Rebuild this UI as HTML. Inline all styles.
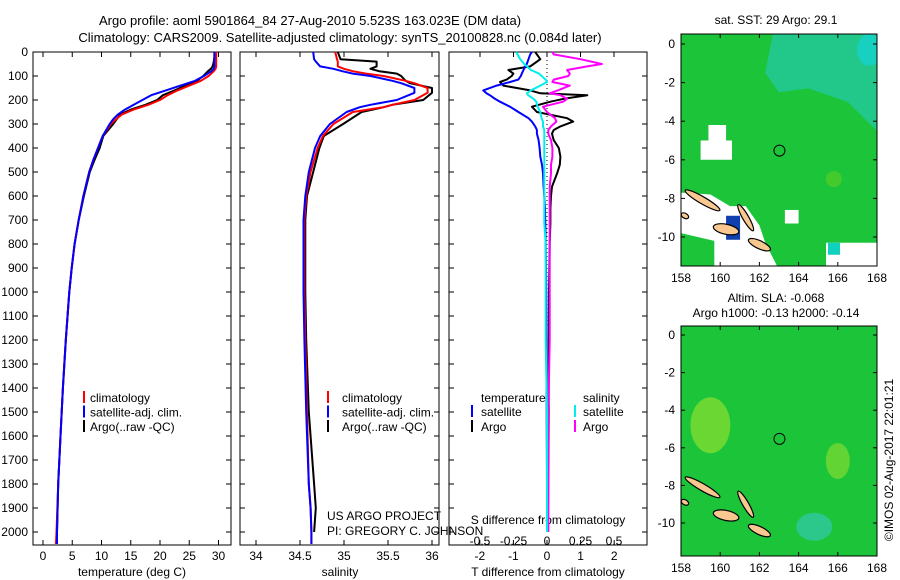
<!DOCTYPE html>
<html><head><meta charset="utf-8"><style>
body{margin:0;background:#fff;}
svg{display:block;font-family:"Liberation Sans",sans-serif;}
text{font-size:12px;fill:#000;}
</style></head><body>
<svg id="chart" width="900" height="580" viewBox="0 0 900 580" xmlns="http://www.w3.org/2000/svg">
<text x="310" y="25" text-anchor="middle" style="font-size:13px">Argo profile: aoml 5901864_84 27-Aug-2010 5.523S 163.023E (DM data)</text>
<text x="340" y="42" text-anchor="middle" style="font-size:13px">Climatology: CARS2009. Satellite-adjusted climatology: synTS_20100828.nc (0.084d later)</text>
<g id="panels"></g>
<g id="maps"></g>
<text transform="translate(893,460) rotate(-90)" text-anchor="middle">©IMOS 02-Aug-2017 22:01:21</text>
</svg>
<script>
// ---- data ----
const depthT = [0,20,40,60,70,80,100,120,140,160,180,200,220,240,260,280,300,350,400,450,500,600,700,800,900,1000,1200,1400,1600,1800,2000,2050];
const tClim = [29.6,29.6,29.6,29.6,29.5,29.2,28.3,27,25,23,21.3,20,18,15.5,13.5,12.5,11.6,10.2,9.4,8.6,7.9,6.9,6.1,5.4,4.9,4.5,3.9,3.4,3.0,2.6,2.3,2.2];
const tSat = [29.3,29.3,29.3,29.3,29.2,28.8,27.5,26,23.5,21,18.5,17,15.5,14,12.8,12,11.4,10.2,9.4,8.6,7.9,6.9,6.1,5.4,4.9,4.5,3.9,3.4,3.0,2.6,2.4,2.4];
const tArgo = [29.3,29.3,29.2,29.0,28.7,28.2,27.4,26.3,24.3,22.5,20.5,19.5,17.5,15,13.2,12.6,12,10.3,9.7,8.8,8,7.0,6.1,5.4,4.9,4.5,3.9,3.4,3.0,2.6,2.4];
const depthS = [0,30,40,60,70,80,90,100,120,130,150,170,200,220,230,250,300,350,400,500,600,700,800,1000,1200,1500,1800,1900,2000,2050];
const sClim = [34.9,34.92,34.93,34.93,35.0,35.1,35.25,35.45,35.7,35.8,35.95,35.95,35.8,35.55,35.45,35.1,34.88,34.76,34.7,34.62,34.57,34.55,34.55,34.55,34.56,34.58,34.6,34.62,34.63,34.63];
const sSat = [34.65,34.66,34.68,34.73,34.88,34.98,35.1,35.3,35.55,35.65,35.8,35.8,35.6,35.3,35.18,35.03,34.84,34.73,34.67,34.6,34.56,34.54,34.54,34.54,34.55,34.57,34.6,34.62,34.63,34.63];
const sArgo = [34.93,34.96,35.37,35.37,35.3,35.4,35.6,35.65,35.7,35.75,36.0,36.0,35.9,35.55,35.45,35.2,34.99,34.77,34.72,34.65,34.58,34.56,34.56,34.56,34.57,34.6,34.66,34.68,34.66];
const depthD = [0,10,30,50,60,75,90,100,115,125,140,160,172,180,195,207,228,250,276,290,310,325,340,367,400,436,470,506,561,600,650,714,800,1000,1200,1500,1800,2000];
const tDiffSat = [-0.45,-0.5,-0.55,-0.6,-0.65,-0.7,-0.75,-0.78,-0.85,-1.1,-1.5,-1.9,-1.8,-1.7,-1.55,-1.4,-1.1,-0.85,-0.55,-0.45,-0.35,-0.3,-0.3,-0.25,-0.22,-0.2,-0.15,-0.12,-0.1,-0.08,-0.06,-0.05,-0.04,-0.02,-0.02,-0.01,0,0];
const tDiffArgo = [-0.35,-0.3,-0.2,-0.4,-0.5,-1.15,-1.0,-1.05,-1.2,-1.4,-1.3,-0.5,-0.2,1.2,0.5,0.1,-0.45,-0.3,0.6,0.78,0.4,0.2,0.15,0.2,0.35,0.4,0.38,0.3,0.15,0.12,0.1,0.1,0.08,0.06,0.05,0.05,0.04,0.03];
const sDiffSat = [-0.23,-0.22,-0.2,-0.17,-0.15,-0.12,-0.06,-0.04,-0.01,0,-0.05,-0.12,-0.15,-0.14,-0.1,-0.08,-0.07,-0.05,-0.04,-0.03,-0.03,-0.02,-0.02,-0.02,-0.02,-0.02,-0.02,-0.02,-0.02,-0.02,-0.02,-0.02,-0.01,-0.01,-0.01,0,0,0];
const sDiffArgo = [0.04,0.05,0.25,0.41,0.3,0.15,0.17,0.16,0.05,0.04,0.17,0.08,0.02,0.1,0.15,0.12,-0.03,0,0.06,0.07,0.03,0.01,0.01,0.03,0.04,0.04,0.03,0.03,0.02,0.02,0.02,0.02,0.02,0.02,0.02,0.01,0.01,0.01];
const depthTicks = [0,100,200,300,400,500,600,700,800,900,1000,1100,1200,1300,1400,1500,1600,1700,1800,1900,2000];
const tempTicks = [0,5,10,15,20,25,30];
const salTicks = [34,34.5,35,35.5,36];
const tDiffTicks = [-2,-1,0,1,2];
const sDiffTicks = [-0.5,-0.25,0,0.25,0.5];
const sDiffTickLabels = ["-0.5","-0.25","0","0.25","0.5"];

const NS="http://www.w3.org/2000/svg";
const panels=document.getElementById('panels');
function mk(tag,attrs,parent){const e=document.createElementNS(NS,tag);for(const k in attrs)e.setAttribute(k,attrs[k]);(parent||panels).appendChild(e);return e;}
const TOP=52, BOT=545;
function yD(d){return TOP+d*0.24;}
const xT=v=>43+v*5.85;
const xS=v=>256+(v-34)*88;
const xTD=v=>547+v*33.6;
const xSD=v=>547+v*134;

function frame(x0,x1,name){
  const r=mk('rect',{x:x0,y:TOP,width:x1-x0,height:BOT-TOP,fill:'none',stroke:'#000','stroke-width':1});
  
  
  depthTicks.forEach(d=>{
    mk('line',{x1:x0,x2:x0+5,y1:yD(d),y2:yD(d),stroke:'#000'});
    mk('line',{x1:x1-5,x2:x1,y1:yD(d),y2:yD(d),stroke:'#000'});
  });
}
function xticks(vals,fx,labels,ly,name){
  vals.forEach((v,i)=>{
    const x=fx(v);
    mk('line',{x1:x,x2:x,y1:BOT,y2:BOT-5,stroke:'#000'});
    mk('line',{x1:x,x2:x,y1:TOP,y2:TOP+5,stroke:'#000'});
    const t=mk('text',{x:x,y:ly,'text-anchor':'middle'});
    t.textContent=labels?labels[i]:String(v);
    
    
  });
}
function series(ds,vs,fx,color,name,w){
  const n=Math.min(ds.length,vs.length);
  const pts=[];
  for(let i=0;i<n;i++)pts.push(fx(vs[i]).toFixed(1)+','+yD(ds[i]).toFixed(1));
  const p=mk('polyline',{points:pts.join(' '),fill:'none',stroke:color,'stroke-width':w||2,'stroke-linejoin':'round'});
  
  
}
function text(x,y,s,name,anchor){
  const t=mk('text',{x:x,y:y,'text-anchor':anchor||'start'});
  t.textContent=s;
  
  
  return t;
}
function legMark(x,y,color){
  const l=mk('line',{x1:x,x2:x,y1:y-11,y2:y+1,stroke:color,'stroke-width':2});
  
  
}

// panel 1 temperature
frame(33,231,'temperature-panel');
depthTicks.forEach(d=>{text(28,yD(d)+4,String(d),'depth-tick-label','end');});
xticks(tempTicks,xT,null,560,'temperature-tick-label');
text(132,576,'temperature (deg C)','temperature-axis-title','middle');
series(depthT,tArgo,xT,'#000','temperature-argo');
series(depthT,tClim,xT,'#f00','temperature-climatology');
series(depthT,tSat,xT,'#00f','temperature-satellite');
[['climatology','#f00'],['satellite-adj. clim.','#00f'],['Argo(..raw -QC)','#000']].forEach((e,i)=>{
  legMark(84,402+i*14.5,e[1]);text(90,402+i*14.5,e[0],'legend-entry');
});

// panel 2 salinity
frame(240,439,'salinity-panel');
xticks(salTicks,xS,null,560,'salinity-tick-label');
text(340,576,'salinity','salinity-axis-title','middle');
series(depthS,sArgo,xS,'#000','salinity-argo');
series(depthS,sClim,xS,'#f00','salinity-climatology');
series(depthS,sSat,xS,'#00f','salinity-satellite');
[['climatology','#f00'],['satellite-adj. clim.','#00f'],['Argo(..raw -QC)','#000']].forEach((e,i)=>{
  legMark(328,402+i*14.5,e[1]);text(342,402+i*14.5,e[0],'legend-entry');
});
text(327,520,'US ARGO PROJECT','project-credit');
text(327,535,'PI: GREGORY C. JOHNSON','pi-credit');

// panel 3 differences
frame(449,647,'difference-panel');
mk('line',{x1:547,x2:547,y1:TOP,y2:yD(1150),stroke:'#000','stroke-dasharray':'1,3'});
tDiffTicks.forEach(v=>{mk('line',{x1:xTD(v),x2:xTD(v),y1:BOT,y2:BOT-5,stroke:'#000'});});
sDiffTicks.forEach(v=>{mk('line',{x1:xSD(v),x2:xSD(v),y1:TOP,y2:TOP+5,stroke:'#000'});});
tDiffTicks.forEach(v=>{text(xTD(v),560,String(v),'t-diff-tick-label','middle');});
sDiffTicks.forEach((v,i)=>{text(xSD(v),545,sDiffTickLabels[i],'s-diff-tick-label','middle');});
text(548,524,'S difference from climatology','s-diff-axis-title','middle');
text(548,576,'T difference from climatology','t-diff-axis-title','middle');
series(depthD,tDiffArgo,xTD,'#000','t-diff-argo');
series(depthD,sDiffArgo,xSD,'#f0f','s-diff-argo');
series(depthD,tDiffSat,xTD,'#00f','t-diff-satellite');
series(depthD,sDiffSat,xSD,'#0ee','s-diff-satellite');
text(481,402,'temperature','legend-title-temperature');
text(583,402,'salinity','legend-title-salinity');
legMark(472,416,'#00f');text(481,416,'satellite','legend-entry');
legMark(472,431,'#000');text(481,431,'Argo','legend-entry');
legMark(575,416,'#0ee');text(583,416,'satellite','legend-entry');
legMark(575,431,'#f0f');text(583,431,'Argo','legend-entry');

// ---- maps ----
const maps=document.getElementById('maps');
const lonTicks=[158,160,162,164,166,168];
const latTicks=[0,-2,-4,-6,-8,-10];
function drawMap(y0,pxLat,topY,botY,name,sst){
  const X=l=>681+(l-158)*19.6, Y=la=>y0-la*pxLat;
  const g=mk('g',{},maps);
  
  
  const cid='clip'+name;
  const cp=mk('clipPath',{id:cid},g);mk('rect',{x:681,y:topY,width:196,height:botY-topY},cp);
  const c=mk('g',{'clip-path':'url(#'+cid+')'},g);
  mk('rect',{x:681,y:topY,width:196,height:botY-topY,fill:'#1cc43a'},c);
  if(sst){
    mk('polygon',{points:[[162.7,0.6],[168,0.6],[168,-4.5],[166.5,-3],[164.5,-2.3],[163,-2.5],[162.3,-1.5]].map(p=>X(p[0])+','+Y(p[1])).join(' '),fill:'#22c88a'},c);
    mk('ellipse',{cx:X(167.6),cy:Y(-0.3),rx:12,ry:16,fill:'#18d0c0'},c);
    mk('ellipse',{cx:X(165.8),cy:Y(-7),rx:8,ry:8,fill:'#50cc28',opacity:0.8},c);
    const white=[[[158,-7.7],[159.5,-7.8],[160.5,-8.4],[161.3,-8.4],[162,-9.4],[162.3,-10.3],[163,-11.7],[159.7,-11.7],[159.7,-10.2],[158,-9.8]],
      [[159.4,-4.2],[160.3,-4.2],[160.3,-5],[160.6,-5],[160.6,-6],[159,-6],[159,-5],[159.4,-5]],
      [[163.3,-8.6],[164,-8.6],[164,-9.3],[163.3,-9.3]],
      [[165.4,-10.3],[168,-10.3],[168,-11.7],[165.4,-11.7]]];
    white.forEach(w=>mk('polygon',{points:w.map(p=>X(p[0])+','+Y(p[1])).join(' '),fill:'#fff'},c));
    mk('rect',{x:X(165.5),y:Y(-10.3),width:12,height:12,fill:'#10d0c0'},c);
    mk('rect',{x:X(160.3),y:Y(-8.9),width:14,height:24,fill:'#1040b0'},c);
  } else {
    mk('ellipse',{cx:X(159.5),cy:Y(-4.8),rx:20,ry:28,fill:'#8ce030',opacity:0.7},c);
    mk('ellipse',{cx:X(166),cy:Y(-6.7),rx:12,ry:18,fill:'#80dc30',opacity:0.7},c);
    mk('ellipse',{cx:X(164.8),cy:Y(-10.2),rx:18,ry:14,fill:'#30c8a0',opacity:0.8},c);
  }
  const isl=[[159.1,-8.1,20,3.5,30],[161.3,-9.0,15,3,60],[160.3,-9.6,13,5,12],[162.0,-10.4,12,4,25],[158.2,-8.9,4,2.5,30]];
  isl.forEach(s=>mk('ellipse',{cx:X(s[0]),cy:Y(s[1]),rx:s[2],ry:s[3],transform:'rotate('+s[4]+' '+X(s[0])+' '+Y(s[1])+')',fill:'#f8c890',stroke:'#000','stroke-width':1.2},c));
  mk('rect',{x:681,y:topY,width:196,height:botY-topY,fill:'none',stroke:'#000'},g);
  const circ=mk('circle',{cx:X(163.023),cy:Y(-5.523),r:5.5,fill:'none',stroke:'#000'},g);
  
  
  lonTicks.forEach(l=>{mk('line',{x1:X(l),x2:X(l),y1:botY,y2:botY-4,stroke:'#000'},g);mk('line',{x1:X(l),x2:X(l),y1:topY,y2:topY+4,stroke:'#000'},g);
    const t=mk('text',{x:X(l),y:botY+16,'text-anchor':'middle'},g);t.textContent=String(l);
    
    });
  latTicks.forEach(la=>{mk('line',{x1:681,x2:685,y1:Y(la),y2:Y(la),stroke:'#000'},g);mk('line',{x1:873,x2:877,y1:Y(la),y2:Y(la),stroke:'#000'},g);
    const t=mk('text',{x:675,y:Y(la)+4,'text-anchor':'end'},g);t.textContent=String(la);
    
    });
}
drawMap(44,19.3,34,266,'sst-map',true);
drawMap(335,18.8,326,556,'sla-map',false);
[[776,24,'sat. SST: 29 Argo: 29.1','sst-map-title'],[776,302,'Altim. SLA: -0.068','sla-map-title'],[776,317,'Argo h1000: -0.13 h2000: -0.14','sla-map-subtitle']].forEach(a=>{
  const t=mk('text',{x:a[0],y:a[1],'text-anchor':'middle'},maps);t.textContent=a[2];
  
  
});
</script>
</body></html>
